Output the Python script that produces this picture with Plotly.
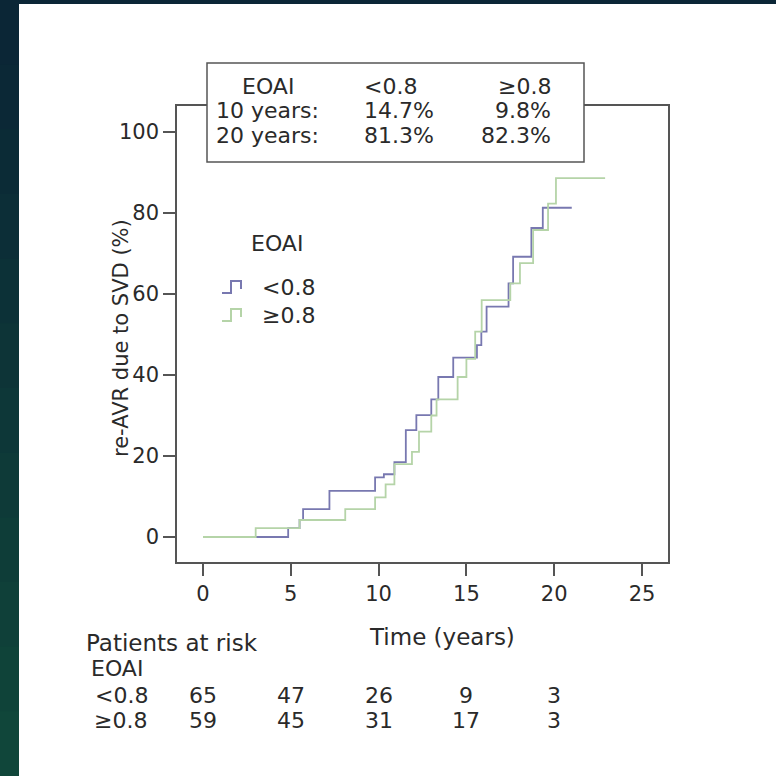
import plotly.graph_objects as go

# ---- data ----
lt_times = [0, 4.85, 5.5, 5.7, 7.2, 9.8, 10.3, 10.9, 11.55, 12.15, 13.0, 13.4, 14.25, 15.6, 15.85, 16.15, 17.4, 17.66, 18.7, 19.35, 21.0]
lt_values = [0, 2.2, 4.2, 6.9, 11.4, 14.7, 15.5, 18.5, 26.4, 30.1, 34.0, 39.5, 44.3, 47.4, 50.7, 56.9, 62.6, 69.2, 76.3, 81.3, 81.3]
ge_times = [0, 3.0, 5.5, 8.1, 9.8, 10.4, 10.9, 11.9, 12.3, 13.0, 13.3, 14.5, 15.0, 15.5, 15.87, 17.5, 18.05, 18.8, 19.65, 20.1, 22.9]
ge_values = [0, 2.2, 4.2, 6.9, 9.8, 13.0, 18.0, 21.0, 26.0, 30.0, 34.0, 39.5, 44.0, 50.7, 58.5, 62.6, 67.6, 75.8, 82.3, 88.6, 88.6]

group_labels = ["<0.8", "≥0.8"]
risk_times = [0, 5, 10, 15, 20]
risk_lt = [65, 47, 26, 9, 3]
risk_ge = [59, 45, 31, 17, 3]
stats_rows = [["EOAI", "<0.8", "≥0.8"],
              ["10 years:", "14.7%", "9.8%"],
              ["20 years:", "81.3%", "82.3%"]]
x_ticks = [0, 5, 10, 15, 20, 25]
y_ticks = [0, 20, 40, 60, 80, 100]

# ---- layout geometry (pixels) ----
Wf, Hf = 776, 776
L, R, T, B = 177, 668, 106, 562
PW, PH = R - L, B - T

def px(x):
    return (x - L) / PW

def py(y):
    return 1 - (y - T) / PH

FONT = "DejaVu Sans, Arial, sans-serif"
TXT = "#2a2a2a"
BLUE = "#7878b0"
GREEN = "#b5d4a8"

fig = go.Figure()
fig.add_trace(go.Scatter(x=lt_times, y=lt_values, mode="lines", line_shape="hv",
                         line=dict(color=BLUE, width=1.8), name=group_labels[0], showlegend=False))
fig.add_trace(go.Scatter(x=ge_times, y=ge_values, mode="lines", line_shape="hv",
                         line=dict(color=GREEN, width=1.8), name=group_labels[1], showlegend=False))

axis_common = dict(showline=True, linecolor="#555555", linewidth=1.5, mirror=True,
                   ticks="outside", ticklen=12, tickwidth=1.5, tickcolor="#555555",
                   showgrid=False, zeroline=False,
                   tickfont=dict(family=FONT, size=21, color=TXT))

y0_px, y100_px = 537, 132
per = (y0_px - y100_px) / 100.0
x0_px, per_x = 203, 17.56

fig.update_layout(
    width=Wf, height=Hf,
    margin=dict(l=L, r=Wf - R, t=T, b=Hf - B, pad=0),
    paper_bgcolor="white", plot_bgcolor="white",
    xaxis=dict(range=[(L - x0_px) / per_x, (R - x0_px) / per_x], tickvals=x_ticks, **axis_common),
    yaxis=dict(range=[(y0_px - B) / per, (y0_px - T) / per], tickvals=y_ticks, **axis_common),
    showlegend=False,
)

shapes = []
# dark slide background stripes (left gradient + top strip)
n = 12
c0 = (11, 38, 54)
c1 = (16, 70, 58)
for i in range(n):
    f = i / (n - 1)
    col = "rgb(%d,%d,%d)" % tuple(int(a + (b - a) * f) for a, b in zip(c0, c1))
    ya = i * Hf / n
    yb = (i + 1) * Hf / n
    shapes.append(dict(type="rect", xref="paper", yref="paper",
                       x0=px(0), x1=px(19), y0=py(yb + 1), y1=py(ya),
                       fillcolor=col, line=dict(width=0), layer="below"))
shapes.append(dict(type="rect", xref="paper", yref="paper",
                   x0=px(0), x1=px(Wf), y0=py(4), y1=py(0),
                   fillcolor="rgb(11,38,54)", line=dict(width=0), layer="below"))
# stats box
shapes.append(dict(type="rect", xref="paper", yref="paper",
                   x0=px(207), x1=px(584), y0=py(162), y1=py(63),
                   fillcolor="white", line=dict(color="#555555", width=1.5), layer="above"))
# legend icons (step glyphs)
for yy, col in [(287, BLUE), (315, GREEN)]:
    path = "M %f %f L %f %f L %f %f L %f %f L %f %f" % (
        px(222), py(yy + 6), px(231), py(yy + 6), px(231), py(yy - 6),
        px(241), py(yy - 6), px(241), py(yy + 2))
    shapes.append(dict(type="path", xref="paper", yref="paper", path=path,
                       line=dict(color=col, width=2), layer="above"))
fig.update_layout(shapes=shapes)

ann = []
def text(x, y, s, size=22, xanchor="left", xref="paper", color=TXT):
    ann.append(dict(x=px(x) if xref == "paper" else x, y=py(y), xref=xref, yref="paper",
                    text=s, showarrow=False, xanchor=xanchor, yanchor="middle",
                    font=dict(family=FONT, size=size, color=color)))

# stats box text
row_y = [87, 111, 135]
for r, row in enumerate(stats_rows):
    if r == 0:
        text(268, row_y[r], row[0], xanchor="center")
    else:
        text(214, row_y[r], row[0])
    text(362, row_y[r], row[1])
    text(553, row_y[r], row[2], xanchor="right")

# inner legend
text(249, 244, "EOAI")
text(260, 287, group_labels[0])
text(260, 315, group_labels[1])

# axis titles
ann.append(dict(x=px(121), y=py(338), xref="paper", yref="paper", text="re-AVR due to SVD (%)",
                showarrow=False, textangle=-90, xanchor="center", yanchor="middle",
                font=dict(family=FONT, size=21, color=TXT)))
text(442, 637, "Time (years)", size=23, xanchor="center")

# at-risk table
text(84, 643, "Patients at risk", size=23)
text(89, 668, "EOAI")
text(93, 695, group_labels[0])
text(92, 720, group_labels[1])
for t, a, b in zip(risk_times, risk_lt, risk_ge):
    text(t, 695, str(a), xanchor="center", xref="x")
    text(t, 720, str(b), xanchor="center", xref="x")

fig.update_layout(annotations=ann)
fig.write_html("out.html", config={"displayModeBar": False},
               post_script="document.body.style.margin='0px';")
